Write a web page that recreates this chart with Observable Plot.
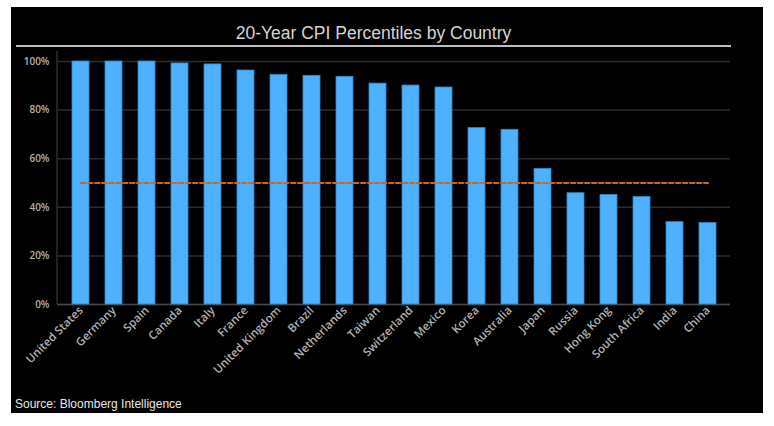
<!DOCTYPE html>
<html>
<head>
<meta charset="utf-8">
<script src="https://cdn.jsdelivr.net/npm/d3@7"></script>
<script src="https://cdn.jsdelivr.net/npm/@observablehq/plot@0.6"></script>
<style>
  html, body { margin: 0; padding: 0; background: #ffffff; }
  #panel { position: absolute; left: 11px; top: 7px; width: 752px; height: 406px; background: #000; overflow: hidden; }
  #title { position: absolute; left: 5px; width: 715px; top: 15px; line-height: 22px; text-align: center;
           font-family: "Liberation Sans", Arial, sans-serif; font-size: 17.5px; color: #d4d4d4; }
  #rule { position: absolute; left: 5px; width: 715px; top: 38px; height: 2px; background: #bdbdbd; }
  #chart { position: absolute; left: 0; top: 43px; }
  #source { position: absolute; left: 4px; top: 390px; line-height: 14px;
            font-family: "Liberation Sans", Arial, sans-serif; font-size: 12px; color: #e6e6e6; }
</style>
</head>
<body>
<div id="panel">
  <div id="title"></div>
  <div id="rule"></div>
  <div id="chart"></div>
  <div id="source"></div>
</div>
<script>
const titleText = "20-Year CPI Percentiles by Country";
const sourceText = "Source: Bloomberg Intelligence";
const countries = ["United States", "Germany", "Spain", "Canada", "Italy", "France", "United Kingdom", "Brazil",
  "Netherlands", "Taiwan", "Switzerland", "Mexico", "Korea", "Australia", "Japan", "Russia", "Hong Kong",
  "South Africa", "India", "China"];
const percentiles = [100, 100, 100, 99.2, 98.8, 96.3, 94.5, 94.1, 93.7, 90.9, 90.1, 89.3, 72.6, 71.9, 55.8,
  45.8, 45.1, 44.2, 33.9, 33.5];
const threshold = 50;
const yTicks = [0, 20, 40, 60, 80, 100];
const yTickLabels = ["0%", "20%", "40%", "60%", "80%", "100%"];

const data = countries.map((c, i) => ({country: c, value: percentiles[i]}));
const thresholdLine = countries.map(c => ({country: c, value: threshold}));

document.getElementById("title").textContent = titleText;
document.getElementById("source").textContent = sourceText;

const tickFont = "'Open Sans', 'DejaVu Sans', sans-serif";

const chart = Plot.plot({
  width: 752,
  height: 340,
  marginLeft: 46,
  marginRight: 33,
  marginTop: 11,
  marginBottom: 86,
  style: {background: "#000", color: "#b8b8b8", fontFamily: tickFont, overflow: "visible"},
  x: {domain: countries, paddingInner: 0.5, paddingOuter: 0.25, axis: null, label: null},
  y: {domain: [0, 100], axis: null, label: null},
  marks: [
    Plot.gridY(yTicks, {stroke: "#2c2c2c", strokeOpacity: 1, strokeWidth: 1.5}),
    (index, scales, values, dims) => {
      const line = document.createElementNS("http://www.w3.org/2000/svg", "line");
      line.setAttribute("x1", dims.marginLeft);
      line.setAttribute("x2", dims.marginLeft);
      line.setAttribute("y1", dims.marginTop - 10);
      line.setAttribute("y2", dims.height - dims.marginBottom);
      line.setAttribute("stroke", "#2c2c2c");
      line.setAttribute("stroke-width", 1.5);
      return line;
    },
    Plot.ruleY([0], {stroke: "#454545", strokeWidth: 1.5}),
    Plot.barY(data, {x: "country", y: "value", fill: "#4eb1ff", stroke: "#2f86c8", strokeWidth: 0.8}),
    Plot.lineY(thresholdLine, {x: "country", y: "value", stroke: "#c4692c", strokeWidth: 2, strokeDasharray: "4.5,2.5"}),
    Plot.axisY(yTicks, {tickSize: 0, tickPadding: 8, label: null, tickFormat: (d, i) => yTickLabels[i], fontSize: 10, fontWeight: 600, fill: "#b0b0b0"}),
    Plot.axisX({tickSize: 0, tickPadding: 4, label: null, tickRotate: -45, fontSize: 11.5, fontWeight: 600, fill: "#b0b0b0"})
  ]
});
document.getElementById("chart").appendChild(chart);
</script>
</body>
</html>
